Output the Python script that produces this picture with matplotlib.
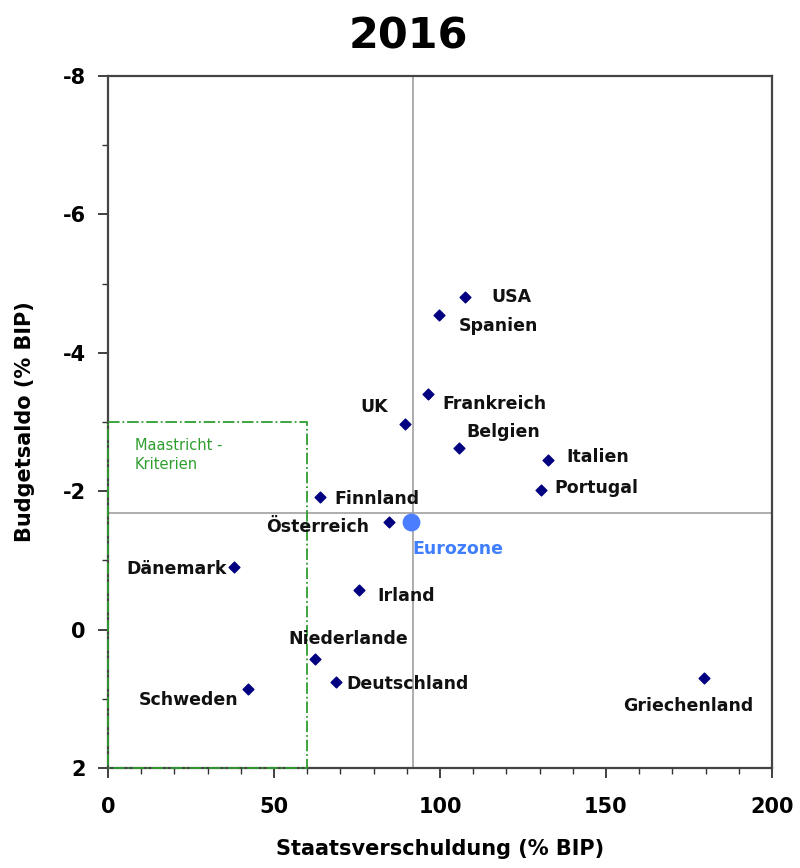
import numpy as np
import matplotlib.pyplot as plt

plt.rcParams['axes.unicode_minus'] = False

# Daten 2016
laender = ['USA', 'Spanien', 'Frankreich', 'UK', 'Belgien', 'Italien', 'Portugal',
           'Finnland', 'Österreich', 'Dänemark', 'Irland', 'Niederlande',
           'Deutschland', 'Schweden', 'Griechenland']
schulden = [107.5, 99.7, 96.5, 89.5, 105.8, 132.6, 130.4,
            63.9, 84.6, 38.0, 75.7, 62.3, 68.6, 42.2, 179.4]
saldo = [-4.80, -4.55, -3.40, -2.97, -2.62, -2.45, -2.02,
         -1.91, -1.55, -0.91, -0.57, 0.43, 0.75, 0.86, 0.70]

euro_schulden = 91.4
euro_saldo = -1.56
linie_x = 91.9
linie_y = -1.69

# Beschriftung: Versatz in Punkten und Ausrichtung
offsets = {
    'USA': (19, 0, 'left'),
    'Spanien': (14, -8, 'left'),
    'Frankreich': (10, -7, 'left'),
    'UK': (-12, 12, 'right'),
    'Belgien': (5, 12, 'left'),
    'Italien': (13, 2, 'left'),
    'Portugal': (10, 1, 'left'),
    'Finnland': (10, -1, 'left'),
    'Österreich': (-14, -3, 'right'),
    'Dänemark': (-5, -2, 'right'),
    'Irland': (13, -4, 'left'),
    'Niederlande': (24, 15, 'center'),
    'Deutschland': (8, -2, 'left'),
    'Schweden': (-7, -8, 'right'),
    'Griechenland': (-11, -20, 'center'),
}

fig = plt.figure(figsize=(8, 8.68), dpi=100)
ax = fig.add_axes([0.135, 0.1152, 0.83, 0.7972])

ax.set_xlim(0, 200)
ax.set_ylim(2, -8)

# Eurozone Linien
ax.axvline(linie_x, color='#a0a0a0', lw=1.2, zorder=1)
ax.axhline(linie_y, color='#a0a0a0', lw=1.2, zorder=1)

# Maastricht Kriterien
gruen = '#2e9e2e'
ax.plot([0, 60, 60, 0, 0], [-3, -3, 2, 2, -3], color=gruen, ls='-.', lw=1.3,
        clip_on=False, zorder=3)
ax.text(8, -2.52, 'Maastricht -\nKriterien', color=gruen, fontsize=10.5,
        va='center', ha='left', linespacing=1.3)

ax.scatter(schulden, saldo, marker='D', s=30, color='#000080', zorder=4)
ax.scatter([euro_schulden], [euro_saldo], marker='o', s=140, color='#4a7dff', zorder=4)

for name, x, y in zip(laender, schulden, saldo):
    dx, dy, ha = offsets[name]
    ax.annotate(name, (x, y), xytext=(dx, dy), textcoords='offset points',
                ha=ha, va='center', fontsize=12.5, fontweight='bold', color='#111111')

ax.annotate('Eurozone', (euro_schulden, euro_saldo), xytext=(1, -20),
            textcoords='offset points', ha='left', va='center', fontsize=12.5,
            fontweight='bold', color='#3f7fff')

ax.set_xticks([0, 50, 100, 150, 200])
ax.set_xticks(np.arange(0, 201, 10), minor=True)
ax.set_yticks([-8, -6, -4, -2, 0, 2])
ax.set_yticks(np.arange(-8, 3, 1), minor=True)
ax.tick_params(which='major', direction='out', length=7, width=1.3, labelsize=15,
               colors='#333333', labelcolor='black')
ax.tick_params(axis='x', which='major', pad=14)
ax.tick_params(axis='y', which='major', pad=9)
ax.tick_params(which='minor', direction='out', length=4, width=1.0, colors='#333333')
for lab in ax.get_xticklabels() + ax.get_yticklabels():
    lab.set_fontweight('bold')

for s in ax.spines.values():
    s.set_color('#444444')
    s.set_linewidth(1.6)

ax.set_xlabel('Staatsverschuldung (% BIP)', fontsize=15, fontweight='bold', labelpad=16)
ax.set_ylabel('Budgetsaldo (% BIP)', fontsize=15, fontweight='bold', labelpad=20)
fig.suptitle('2016', fontsize=31, fontweight='bold', x=0.51, y=0.982)

plt.savefig('out.png', dpi=100)
